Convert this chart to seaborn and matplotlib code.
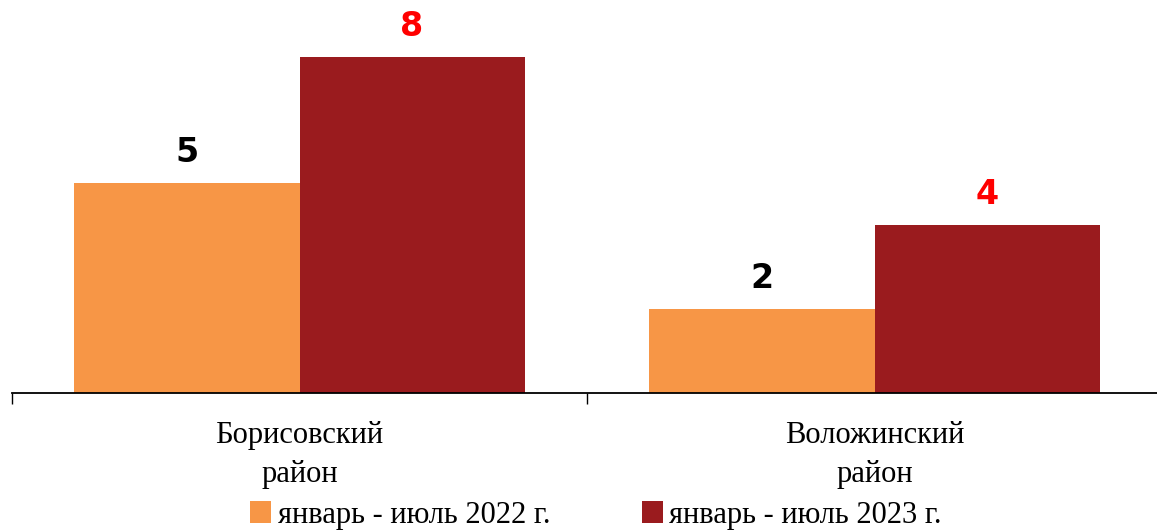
import numpy as np
import pandas as pd
import matplotlib
matplotlib.use("Agg")
import matplotlib.pyplot as plt
import seaborn as sns

regions = ["Борисовский\nрайон", "Воложинский\nрайон"]
periods = ["январь - июль 2022 г.", "январь - июль 2023 г."]
values_2022 = [5, 2]
values_2023 = [8, 4]
colors = ["#F79646", "#9A1B1E"]
label_colors = ["black", "#FF0000"]

df = pd.DataFrame({
    "region": regions * 2,
    "period": [periods[0]] * 2 + [periods[1]] * 2,
    "value": values_2022 + values_2023,
})

sns.set_style("white")
plt.rcParams["font.family"] = ["Liberation Serif", "DejaVu Serif"]
plt.rcParams["text.color"] = "black"
plt.rcParams["xtick.color"] = "black"
plt.rcParams["xtick.labelcolor"] = "black"

fig = plt.figure(figsize=(11.57, 5.30), dpi=100)
ax = fig.add_axes([12 / 1157, 137 / 530, 1150 / 1157, 393 / 530])

sns.barplot(data=df, x="region", y="value", hue="period", order=regions,
            hue_order=periods, palette=colors, width=0.783, gap=0,
            saturation=1, linewidth=0, ax=ax, legend=True)

for cont, col in zip(ax.containers, label_colors):
    ax.bar_label(cont, padding=10, color=col, fontsize=24, fontweight="heavy",
                 family="DejaVu Sans")

ax.set_xlim(-0.5, 1.5)
ax.set_ylim(0, 9.36)
ax.set_xlabel("")
ax.set_ylabel("")
ax.set_yticks([])
for s in ["top", "right", "left"]:
    ax.spines[s].set_visible(False)
ax.spines["bottom"].set_linewidth(1.3)
ax.spines["bottom"].set_color("black")

ax.set_xticks([0, 1])
ax.set_xticklabels(regions, fontsize=22, linespacing=1.45, color="black")
ax.set_xticks([-0.5, 0.5, 1.5], minor=True)
ax.tick_params(axis="x", which="major", length=0, pad=20)
ax.tick_params(axis="x", which="minor", length=8, width=1, color="black",
               bottom=True, direction="out")

handles, labels = ax.get_legend_handles_labels()
leg = ax.legend(handles, labels, loc="center", bbox_to_anchor=(0.515, 15 / 530),
                bbox_transform=fig.transFigure, ncol=2, frameon=False, fontsize=22,
                handlelength=0.7, handleheight=0.7, handletextpad=0.2,
                columnspacing=3.0)
for t in leg.get_texts():
    t.set_color("black")

fig.savefig("out.png", dpi=100)
